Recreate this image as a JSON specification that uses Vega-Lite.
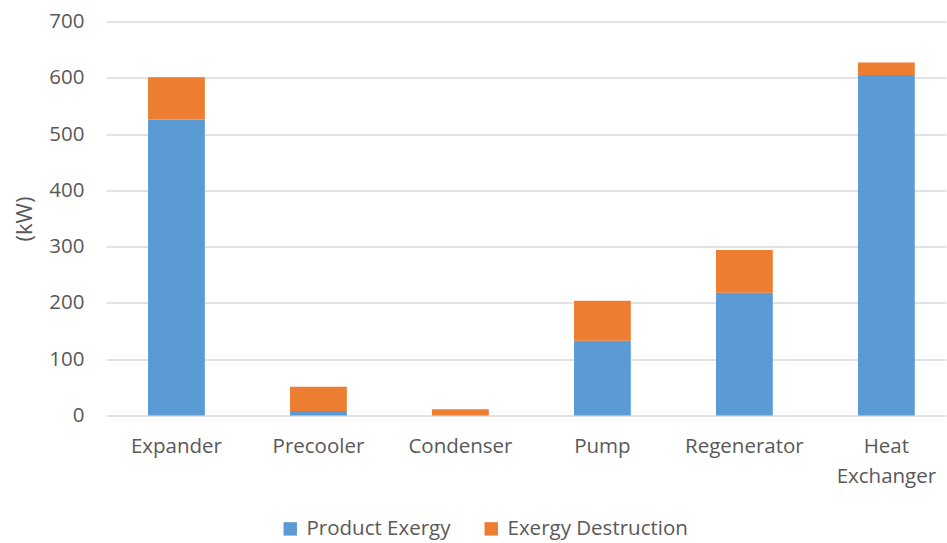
{
  "$schema": "https://vega.github.io/schema/vega-lite/v6.json",
  "width": 840,
  "height": 394,
  "autosize": {"type": "none"},
  "padding": {"left": 106, "top": 21.5, "right": 1, "bottom": 127.5},
  "background": "white",
  "config": {
    "font": "Open Sans",
    "view": {"stroke": null}
  },
  "data": {
    "values": [
      {"component": "Expander", "series": "Product Exergy", "k": 1, "kW": 526},
      {"component": "Expander", "series": "Exergy Destruction", "k": 2, "kW": 75},
      {"component": "Precooler", "series": "Product Exergy", "k": 1, "kW": 8},
      {"component": "Precooler", "series": "Exergy Destruction", "k": 2, "kW": 43},
      {"component": "Condenser", "series": "Product Exergy", "k": 1, "kW": 0},
      {"component": "Condenser", "series": "Exergy Destruction", "k": 2, "kW": 11},
      {"component": "Pump", "series": "Product Exergy", "k": 1, "kW": 133},
      {"component": "Pump", "series": "Exergy Destruction", "k": 2, "kW": 71},
      {"component": "Regenerator", "series": "Product Exergy", "k": 1, "kW": 218},
      {"component": "Regenerator", "series": "Exergy Destruction", "k": 2, "kW": 76},
      {"component": "Heat Exchanger", "series": "Product Exergy", "k": 1, "kW": 605},
      {"component": "Heat Exchanger", "series": "Exergy Destruction", "k": 2, "kW": 22}
    ]
  },
  "mark": {"type": "bar"},
  "encoding": {
    "x": {
      "field": "component",
      "type": "nominal",
      "sort": null,
      "scale": {"paddingInner": 0.6, "paddingOuter": 0.258, "align": 0.574},
      "axis": {
        "title": null,
        "labelAngle": 0,
        "labelFontSize": 20.5,
        "labelColor": "#595959",
        "labelPadding": 21,
        "labelLineHeight": 30,
        "labelExpr": "datum.label == 'Heat Exchanger' ? ['Heat', 'Exchanger'] : datum.label",
        "ticks": false,
        "domain": false,
        "grid": false
      }
    },
    "y": {
      "field": "kW",
      "type": "quantitative",
      "stack": "zero",
      "scale": {"domain": [0, 700], "nice": false},
      "axis": {
        "title": "(kW)",
        "titleFontSize": 22,
        "titleFontWeight": "normal",
        "titleColor": "#595959",
        "titlePadding": 12,
        "values": [0, 100, 200, 300, 400, 500, 600, 700],
        "labelFontSize": 20.5,
        "labelColor": "#595959",
        "labelPadding": 22,
        "ticks": false,
        "domain": false,
        "grid": true,
        "gridColor": "#d9d9d9",
        "gridWidth": 1.5
      }
    },
    "color": {
      "field": "series",
      "type": "nominal",
      "scale": {
        "domain": ["Product Exergy", "Exergy Destruction"],
        "range": ["#5B9BD5", "#ED7D31"]
      },
      "legend": {
        "title": null,
        "orient": "none",
        "direction": "horizontal",
        "legendX": 174,
        "legendY": 497,
        "symbolType": "square",
        "symbolSize": 180,
        "symbolOpacity": 1,
        "labelFontSize": 20.5,
        "labelColor": "#595959",
        "labelLimit": 400,
        "columnPadding": 30,
        "labelOffset": 6
      }
    },
    "order": {"field": "k", "type": "quantitative", "sort": "ascending"}
  }
}
